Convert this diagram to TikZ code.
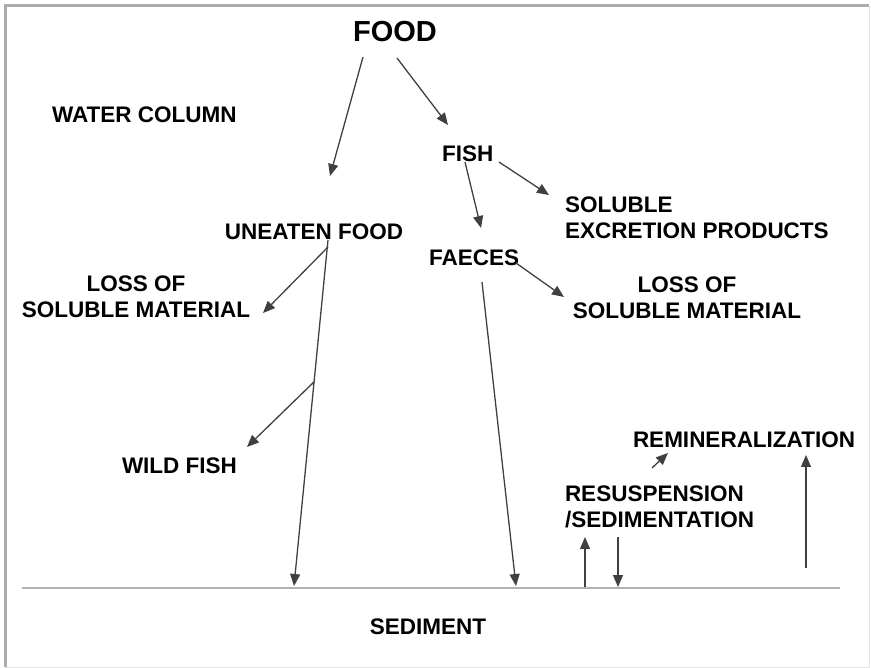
\documentclass[tikz,border=0pt]{standalone}
\usepackage{fontspec}
\setmainfont{Liberation Sans}
\usetikzlibrary{arrows.meta}

\begin{document}
\begin{tikzpicture}[x=1pt,y=-1pt,
  lbl/.style={font=\fontsize{22.5}{26}\selectfont\bfseries,inner sep=0pt,outer sep=0pt},
  flow/.style={-{Triangle[length=12pt,width=10pt]},line width=1.3pt,black!75}]
\useasboundingbox (0,0) rectangle (871,668);
% frame
\draw[gray!20,line width=1pt] (869,6) -- (869,667) -- (5,667);
\draw[gray!65,line width=3pt] (5,667) -- (5,6) -- (869,6);

% labels
\node[lbl,font=\fontsize{29}{34}\selectfont\bfseries,anchor=base] (food) at (395,42) {FOOD};
\node[lbl,anchor=base west] (water) at (52,123) {WATER COLUMN};
\node[lbl,anchor=base west] (fish) at (442,162) {FISH};
\node[lbl,anchor=north west,align=left] (excr) at (565,197) {SOLUBLE\\EXCRETION PRODUCTS};
\node[lbl,anchor=base] (uneaten) at (314,240) {UNEATEN FOOD};
\node[lbl,anchor=base west] (faeces) at (429,266) {FAECES};
\node[lbl,anchor=north,align=center] (lossl) at (136,276) {LOSS OF\\SOLUBLE MATERIAL};
\node[lbl,anchor=north,align=center] (lossr) at (687,277) {LOSS OF\\SOLUBLE MATERIAL};
\node[lbl,anchor=base west] (wild) at (122,474) {WILD FISH};
\node[lbl,anchor=base west] (remin) at (633,448) {REMINERALIZATION};
\node[lbl,anchor=north west,align=left] (resus) at (565,486) {RESUSPENSION\\/SEDIMENTATION};
\node[lbl,anchor=base] (sed) at (428,634) {SEDIMENT};

% sediment surface
\coordinate (bedl) at (22,588);
\coordinate (bedr) at (840,588);
\draw[gray!60,line width=2pt] (bedl) -- (bedr);

% arrow ends
\coordinate (food-a) at (363,57);  \coordinate (une-in) at (330,176);
\coordinate (food-b) at (397,58);  \coordinate (fish-in) at (448,125);
\coordinate (fish-a) at (499,162); \coordinate (excr-in) at (549,195);
\coordinate (fish-b) at (465,162); \coordinate (faec-in) at (481,228);
\coordinate (une-a) at (328,247);  \coordinate (lossl-in) at (263,313);
\coordinate (une-b) at (328,240);  \coordinate (bed-a) at (294,586);
\coordinate (wild-in) at (247,447);
\coordinate (faec-a) at (516,263); \coordinate (lossr-in) at (564,297);
\coordinate (faec-b) at (482,282); \coordinate (bed-b) at (516,586);
\coordinate (bed-c) at (585,587);  \coordinate (resus-up) at (585,537);
\coordinate (resus-dn) at (618,537); \coordinate (bed-d) at (618,587);
\coordinate (resus-a) at (652,468); \coordinate (remin-in) at (668,453);
\coordinate (bed-e) at (806,568);  \coordinate (remin-up) at (806,455);
\path (une-b) -- (bed-a) coordinate[pos=0.41] (branch);

% flows
\draw[flow] (food-a) -- (une-in);
\draw[flow] (food-b) -- (fish-in);
\draw[flow] (fish-a) -- (excr-in);
\draw[flow] (fish-b) -- (faec-in);
\draw[flow] (une-a) -- (lossl-in);
\draw[flow] (une-b) -- (bed-a);
\draw[flow] (branch) -- (wild-in);
\draw[flow] (faec-a) -- (lossr-in);
\draw[flow] (faec-b) -- (bed-b);
\draw[flow] (bed-c) -- (resus-up);
\draw[flow] (resus-dn) -- (bed-d);
\draw[flow] (resus-a) -- (remin-in);
\draw[flow] (bed-e) -- (remin-up);
\end{tikzpicture}
\end{document}
